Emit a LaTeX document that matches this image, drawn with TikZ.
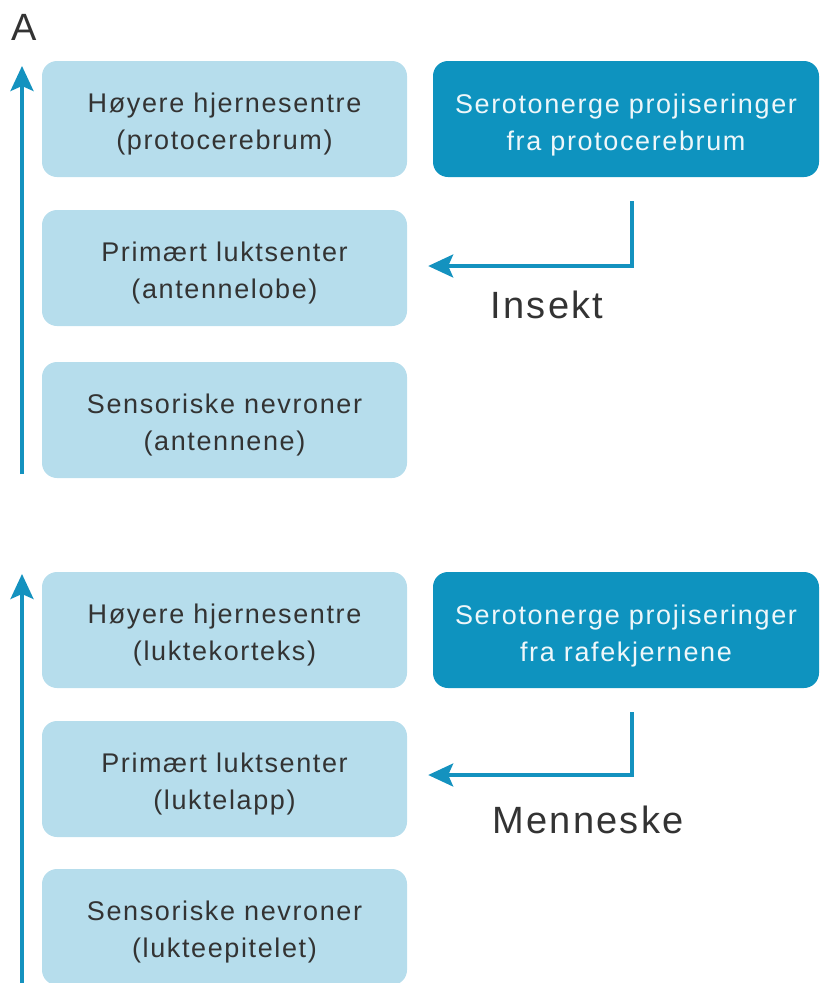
\documentclass[tikz,border=0pt]{standalone}
\usepackage{fontspec}
\setmainfont{Liberation Sans}[LetterSpace=6]
\usetikzlibrary{arrows.meta,calc}
\definecolor{lightbox}{HTML}{B6DDEC}
\definecolor{darkbox}{HTML}{0E93BF}
\definecolor{arrowblue}{HTML}{1492BF}
\definecolor{txtgrey}{HTML}{333333}
\definecolor{txtwhite}{HTML}{EEF7FA}
\begin{document}
\begin{tikzpicture}[x=1pt,y=-1pt,
  lbox/.style={fill=lightbox, rounded corners=15pt, minimum width=365pt, minimum height=116pt, inner sep=0pt},
  dbox/.style={fill=darkbox, rounded corners=15pt, minimum width=386pt, minimum height=116pt, inner sep=0pt},
  ltext/.style={text=txtgrey, align=center, inner sep=0pt, font=\fontsize{27}{37}\selectfont},
  dtext/.style={text=txtwhite, align=center, inner sep=0pt, font=\fontsize{27}{37}\selectfont},
  conn/.style={draw=arrowblue, line width=3.2pt, -{Stealth[length=25pt,width=23pt,inset=5pt]}},
  bigl/.style={text=txtgrey, font=\fontsize{38}{44}\selectfont, inner sep=0pt}
]
\useasboundingbox (0,0) rectangle (820,983);
\clip (0,0) rectangle (820,983);
% panel label
\node[bigl, anchor=base] (lab) at (24,40) {A};
% top panel
\node[lbox] (h1) at (224.5,119) {};
\node[lbox] (p1) at (224.5,268) {};
\node[lbox] (s1) at (224.5,420) {};
\node[dbox] (d1) at (626,119) {};
\node[ltext] (h1t) at ([yshift=-5pt]h1.center) {Høyere hjernesentre\\(protocerebrum)};
\node[ltext] (p1t) at ([yshift=-5pt]p1.center) {Primært luktsenter\\(antennelobe)};
\node[ltext] (s1t) at ([yshift=-5pt]s1.center) {Sensoriske nevroner\\(antennene)};
\node[dtext] (d1t) at ([yshift=-6pt]d1.center) {Serotonerge projiseringer\\fra protocerebrum};
\node[bigl, anchor=base] (ins) at (547,318) {Insekt};
\coordinate (a1s) at (22,474);
\coordinate (a1e) at (22,66);
\draw[conn] (a1s) -- (a1e);
\draw[conn] ([xshift=6pt,yshift=-24pt]d1.south) |- ([xshift=21pt,yshift=2pt]p1.east);
% bottom panel
\node[lbox] (h2) at (224.5,630) {};
\node[lbox] (p2) at (224.5,779) {};
\node[lbox] (s2) at (224.5,927) {};
\node[dbox] (d2) at (626,630) {};
\node[ltext] (h2t) at ([yshift=-5pt]h2.center) {Høyere hjernesentre\\(luktekorteks)};
\node[ltext] (p2t) at ([yshift=-5pt]p2.center) {Primært luktsenter\\(luktelapp)};
\node[ltext] (s2t) at ([yshift=-5pt]s2.center) {Sensoriske nevroner\\(lukteepitelet)};
\node[dtext] (d2t) at ([yshift=-6pt]d2.center) {Serotonerge projiseringer\\fra rafekjernene};
\node[bigl, anchor=base] (men) at (588,833) {Menneske};
\coordinate (a2s) at (22,990);
\coordinate (a2e) at (22,574);
\draw[conn] (a2s) -- (a2e);
\draw[conn] ([xshift=6pt,yshift=-24pt]d2.south) |- ([xshift=21pt,yshift=4pt]p2.east);
\end{tikzpicture}
\end{document}
